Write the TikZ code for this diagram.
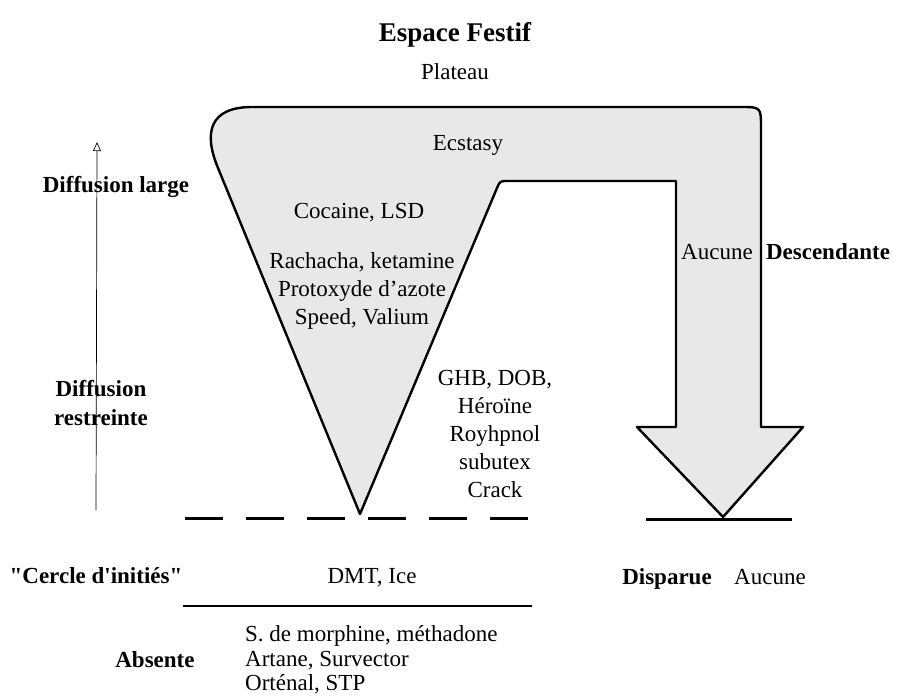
\documentclass[tikz,border=0pt]{standalone}
\usepackage{fontspec}
\setmainfont{Liberation Serif}[Ligatures=TeXOff]
\usetikzlibrary{arrows.meta}
\begin{document}
\begin{tikzpicture}[x=1pt,y=-1pt,
 txt/.style={font=\fontsize{23}{28}\selectfont, inner sep=0pt, align=center},
 lbl/.style={font=\fontsize{23}{29}\selectfont\bfseries, inner sep=0pt, align=center},
 outline/.style={line width=2.4pt, line join=round, fill=black!9},
 thickline/.style={line width=3pt},
 axis/.style={line width=0.7pt, -{Triangle[open,length=9pt,width=8pt]}}]
\useasboundingbox (0,0) rectangle (908,696);

% main shape: funnel + plateau + descending arrow
\draw[outline] (252,107) -- (740,107) .. controls (761,107) .. (761,128)
  -- (761,427) -- (803,427) -- (723,517) -- (637,427) -- (676,427)
  -- (676,181) -- (508,181) .. controls (500,181) .. (497,188)
  -- (360,514) -- (218,168) .. controls (203,132) and (210,107) .. (252,107) -- cycle;

% lines
\coordinate (d1) at (185,518); \coordinate (d2) at (532,518);
\draw[thickline, dash pattern=on 38pt off 23pt] (d1) -- (d2);
\coordinate (s1) at (646,519); \coordinate (s2) at (792,519);
\draw[thickline] (s1) -- (s2);
\coordinate (u1) at (183,606); \coordinate (u2) at (532,606);
\draw[line width=2pt] (u1) -- (u2);
\coordinate (a1) at (96,510); \coordinate (a2) at (97,142);
\draw[axis] (a1) -- (a2);

% texts
\node[lbl, font=\fontsize{27}{32}\selectfont\bfseries] (title) at (455,35) {Espace Festif};
\node[txt] (plateau) at (455,72) {Plateau};
\node[txt] (ecstasy) at (468,145) {Ecstasy};
\node[txt] (cocaine) at (359,213) {Cocaine, LSD};
\node[txt] (rach) at (362,291) {Rachacha, ketamine\\Protoxyde d’azote\\Speed, Valium};
\node[txt] (ghb) at (495,434) {GHB, DOB,\\Héroïne\\Royhpnol\\subutex\\Crack};
\node[txt, anchor=base] (aucune1) at (717,259) {Aucune};
\node[lbl, anchor=base] (desc) at (828,259) {Descendante};
\node[lbl] (difflarge) at (116,187) {Diffusion large};
\node[lbl] (diffrest) at (101,403) {Diffusion\\restreinte};
\node[lbl, anchor=base] (cercle) at (96,583) {"Cercle d'initiés"};
\node[txt, anchor=base] (dmt) at (372,583) {DMT, Ice};
\node[lbl, anchor=base] (disparue) at (667,584) {Disparue};
\node[txt, anchor=base] (aucune2) at (770,584) {Aucune};
\node[lbl, anchor=base] (absente) at (155,667) {Absente};
\node[txt, font=\fontsize{23}{24.5}\selectfont, align=left, anchor=west] (absl) at (245,660) {S. de morphine, méthadone\\Artane, Survector\\Orténal, STP};
\end{tikzpicture}
\end{document}
